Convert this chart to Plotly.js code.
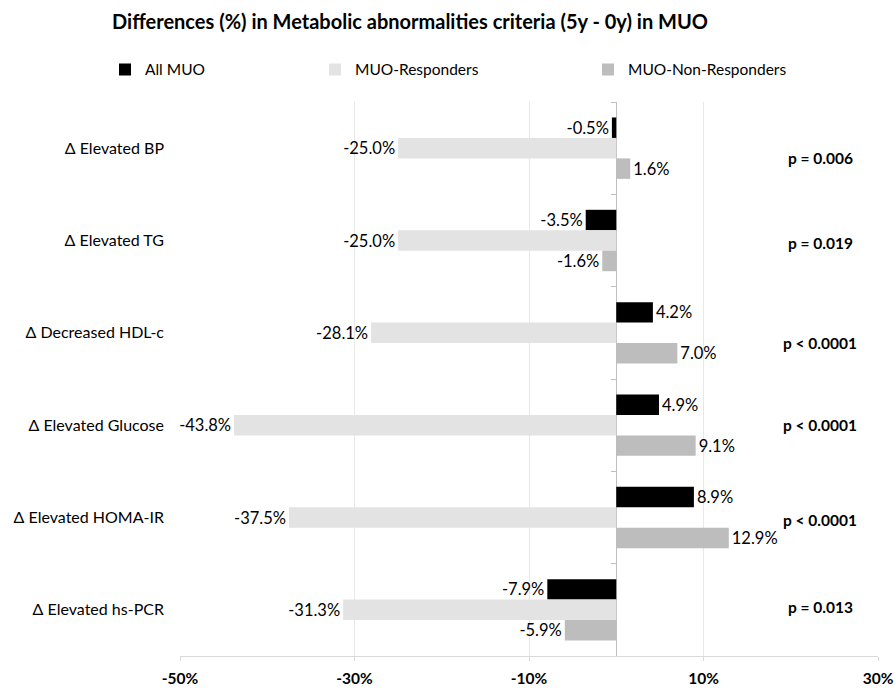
<!DOCTYPE html>
<html><head><meta charset="utf-8">
<script src="https://cdn.plot.ly/plotly-3.0.1.min.js"></script>
<style>html,body{margin:0;padding:0;background:#fff}</style>
</head><body>
<div id="chart" style="width:895px;height:689px"></div>
<script>
const categories = ['Δ Elevated BP','Δ Elevated TG','Δ Decreased HDL-c','Δ Elevated Glucose','Δ Elevated HOMA-IR','Δ Elevated hs-PCR'];
const seriesNames = ['All MUO','MUO-Responders','MUO-Non-Responders'];
const allMUO = [-0.5,-3.5,4.2,4.9,8.9,-7.9];
const responders = [-25.0,-25.0,-28.1,-43.8,-37.5,-31.3];
const nonResponders = [1.6,-1.6,7.0,9.1,12.9,-5.9];
const pValues = ['p = 0.006','p = 0.019','p < 0.0001','p < 0.0001','p < 0.0001','p = 0.013'];
const xTicks = [-50,-30,-10,10,30];
const xTickLabels = ['-50%','-30%','-10%','10%','30%'];

const FONT = 'Lato, "Open Sans", sans-serif';
const colors = ['#000000','#e3e3e3','#bdbdbd'];
const legendIds = ['legend','legend2','legend3'];
const seriesValues = [allMUO, responders, nonResponders];

const traces = seriesValues.map((vals,i)=>({
  type:'bar', orientation:'h', name:seriesNames[i],
  y:categories, x:vals,
  marker:{color:colors[i]},
  text:vals.map(v=>v.toFixed(1)+'%'), texttemplate:'%{text}',
  textposition:'outside', constraintext:'none',
  textfont:{family:FONT,size:16.5,color:'#000'},
  cliponaxis:false, legend:legendIds[i], hoverinfo:'x+name'
}));
// invisible helper so the boundary ticks on the zero axis get categories
traces.push({type:'scatter', mode:'markers', y:categories, x:categories.map(()=>0),
  yaxis:'y2', marker:{opacity:0}, showlegend:false, hoverinfo:'skip'});

const pShift = [-10,-2,-10,0,-2,3];
const annotations = pValues.map((t,i)=>({
  text:t, x:23.4, y:categories[i], xref:'x', yref:'y', yshift:pShift[i],
  showarrow:false, font:{family:FONT,size:15.5,weight:'bold',color:'#000'}
}));

const legendBase = {orientation:'h', yanchor:'middle', y:1.058, xanchor:'left',
  font:{family:FONT,size:15.5,color:'#000'}, itemwidth:30, bgcolor:'rgba(0,0,0,0)'};

const layout = {
  width:895, height:689,
  margin:{l:180,r:17,t:102,b:33},
  paper_bgcolor:'#fff', plot_bgcolor:'#fff',
  font:{family:FONT,color:'#000'},
  title:{text:'Differences (%) in Metabolic abnormalities criteria (5y - 0y) in MUO',
    font:{family:FONT,size:20,weight:'bold',color:'#000'},
    xref:'container', x:410/895, xanchor:'center', yref:'container', y:1-22/689, yanchor:'middle'},
  barmode:'group', bargap:0.335, bargroupgap:0,
  xaxis:{range:[-50,30], tickmode:'array', tickvals:xTicks, ticktext:xTickLabels,
    tickfont:{family:FONT,size:15.5,weight:'bold',color:'#000'},
    showgrid:true, gridcolor:'#e8e8e8', gridwidth:1,
    zeroline:true, zerolinecolor:'#bfbfbf', zerolinewidth:1,
    showline:true, linecolor:'#d9d9d9', linewidth:1,
    ticks:'outside', ticklen:4, tickcolor:'#d9d9d9', ticklabelstandoff:4, fixedrange:true},
  yaxis:{type:'category', categoryarray:categories, range:[5.5,-0.5],
    showgrid:false, zeroline:false, showline:false, ticks:'',
    tickfont:{family:FONT,size:16,color:'#000'}, ticklabelstandoff:15, fixedrange:true},
  yaxis2:{type:'category', categoryarray:categories, range:[5.5,-0.5], overlaying:'y',
    anchor:'free', position:0.625, side:'left', tickson:'boundaries', ticks:'outside',
    ticklen:5, tickcolor:'#bfbfbf', showticklabels:false, showgrid:false, zeroline:false,
    showline:false, fixedrange:true},
  legend:Object.assign({}, legendBase, {x:(105-180)/698}),
  legend2:Object.assign({}, legendBase, {x:(315-180)/698}),
  legend3:Object.assign({}, legendBase, {x:(588-180)/698}),
  annotations:annotations,
  showlegend:true
};

Plotly.newPlot('chart', traces, layout, {displayModeBar:false});
</script>
</body></html>
